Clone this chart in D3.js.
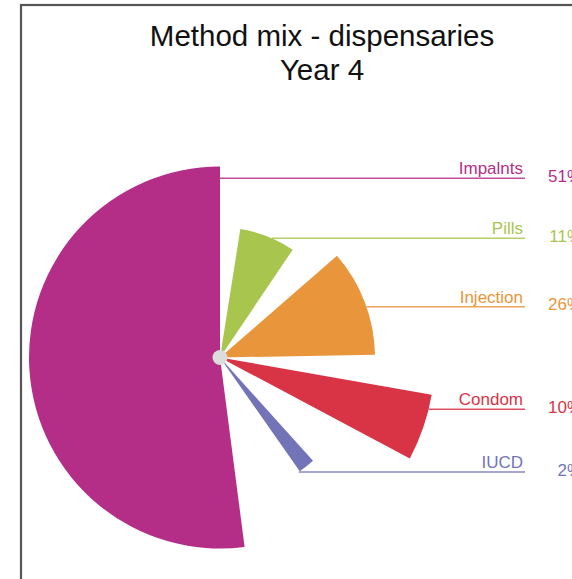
<!DOCTYPE html>
<html>
<head>
<meta charset="utf-8">
<script src="https://cdn.jsdelivr.net/npm/d3@7"></script>
<style>
  html, body { margin: 0; padding: 0; background: #fff; }
  svg { display: block; }
</style>
</head>
<body>
<script>
// ---- data ----
const categories = ["Impalnts", "Pills", "Injection", "Condom", "IUCD"];
const percents   = [51, 11, 26, 10, 2];
// wedge sweep in degrees, clockwise from 12 o'clock
const sweepStart = [172.6, 9, 49, 100, 138];
const sweepEnd   = [360, 34, 89, 118, 145];
// wedge reach (relative length)
const reach      = [191, 130, 155, 215, 139];
const colors     = ["#b42e87", "#a8c64e", "#e9953b", "#d93446", "#7373b8"];
const titleLines = ["Method mix - dispensaries", "Year 4"];

// ---- layout ----
const W = 572, H = 579;
const cx = 220, cy = 357.5;
const labelLineY = [178.3, 238.3, 306.7, 409.3, 472];
const lineEndX = 525;

const svg = d3.select("body").append("svg")
  .attr("width", W).attr("height", H);

// frame
svg.append("rect")
  .attr("x", 21).attr("y", 5)
  .attr("width", 600).attr("height", 600)
  .attr("fill", "#fff")
  .attr("stroke", "#555").attr("stroke-width", 2.2);

// title
svg.append("g").selectAll("text").data(titleLines).join("text")
  .attr("x", 322).attr("y", (d, i) => 46 + i * 34)
  .attr("text-anchor", "middle")
  .attr("font-family", "Liberation Sans, Arial, sans-serif")
  .attr("font-size", 29.5)
  .attr("fill", "#111")
  .text(d => d);

const angle = d3.scaleLinear().domain([0, 360]).range([0, 2 * Math.PI]);
const rScale = d3.scaleLinear().domain([0, 1]).range([0, 1]);

const data = categories.map((c, i) => ({
  name: c, pct: percents[i], a0: sweepStart[i], a1: sweepEnd[i],
  r: reach[i], color: colors[i], ly: labelLineY[i]
}));

const arc = d3.arc()
  .innerRadius(0)
  .outerRadius(d => rScale(d.r))
  .startAngle(d => angle(d.a0))
  .endAngle(d => angle(d.a1));

const g = svg.append("g").attr("transform", `translate(${cx},${cy})`);
g.selectAll("path").data(data).join("path")
  .attr("d", arc)
  .attr("fill", d => d.color);

g.append("circle").attr("r", 7.5).attr("fill", "#dcdcdc");

// leader lines
function lineStartX(d) {
  const dy = d.ly - cy;
  const r = rScale(d.r);
  if (Math.abs(dy) < r) {
    const dx = Math.sqrt(r * r - dy * dy);
    const deg = (Math.atan2(dx, -dy) * 180 / Math.PI + 360) % 360;
    if (deg >= d.a0 - 2 && deg <= d.a1 + 2) return cx + dx;
  }
  return cx;
}

svg.append("g").selectAll("line").data(data).join("line")
  .attr("x1", d => lineStartX(d))
  .attr("x2", lineEndX)
  .attr("y1", d => d.ly).attr("y2", d => d.ly)
  .attr("stroke", d => d.color)
  .attr("stroke-opacity", 0.85)
  .attr("stroke-width", 1.5);

// category labels
svg.append("g").selectAll("text").data(data).join("text")
  .attr("x", 523).attr("y", d => d.ly - 4)
  .attr("text-anchor", "end")
  .attr("font-family", "Liberation Sans, Arial, sans-serif")
  .attr("font-size", 17)
  .attr("fill", d => d.color)
  .text(d => d.name);

// percentages (cut by the right edge, as in the reference)
svg.append("g").selectAll("text").data(data).join("text")
  .attr("x", 582).attr("y", d => d.ly + 3.5)
  .attr("text-anchor", "end")
  .attr("font-family", "Liberation Sans, Arial, sans-serif")
  .attr("font-size", 17)
  .attr("fill", d => d.color)
  .text(d => d.pct + "%");
</script>
</body>
</html>
